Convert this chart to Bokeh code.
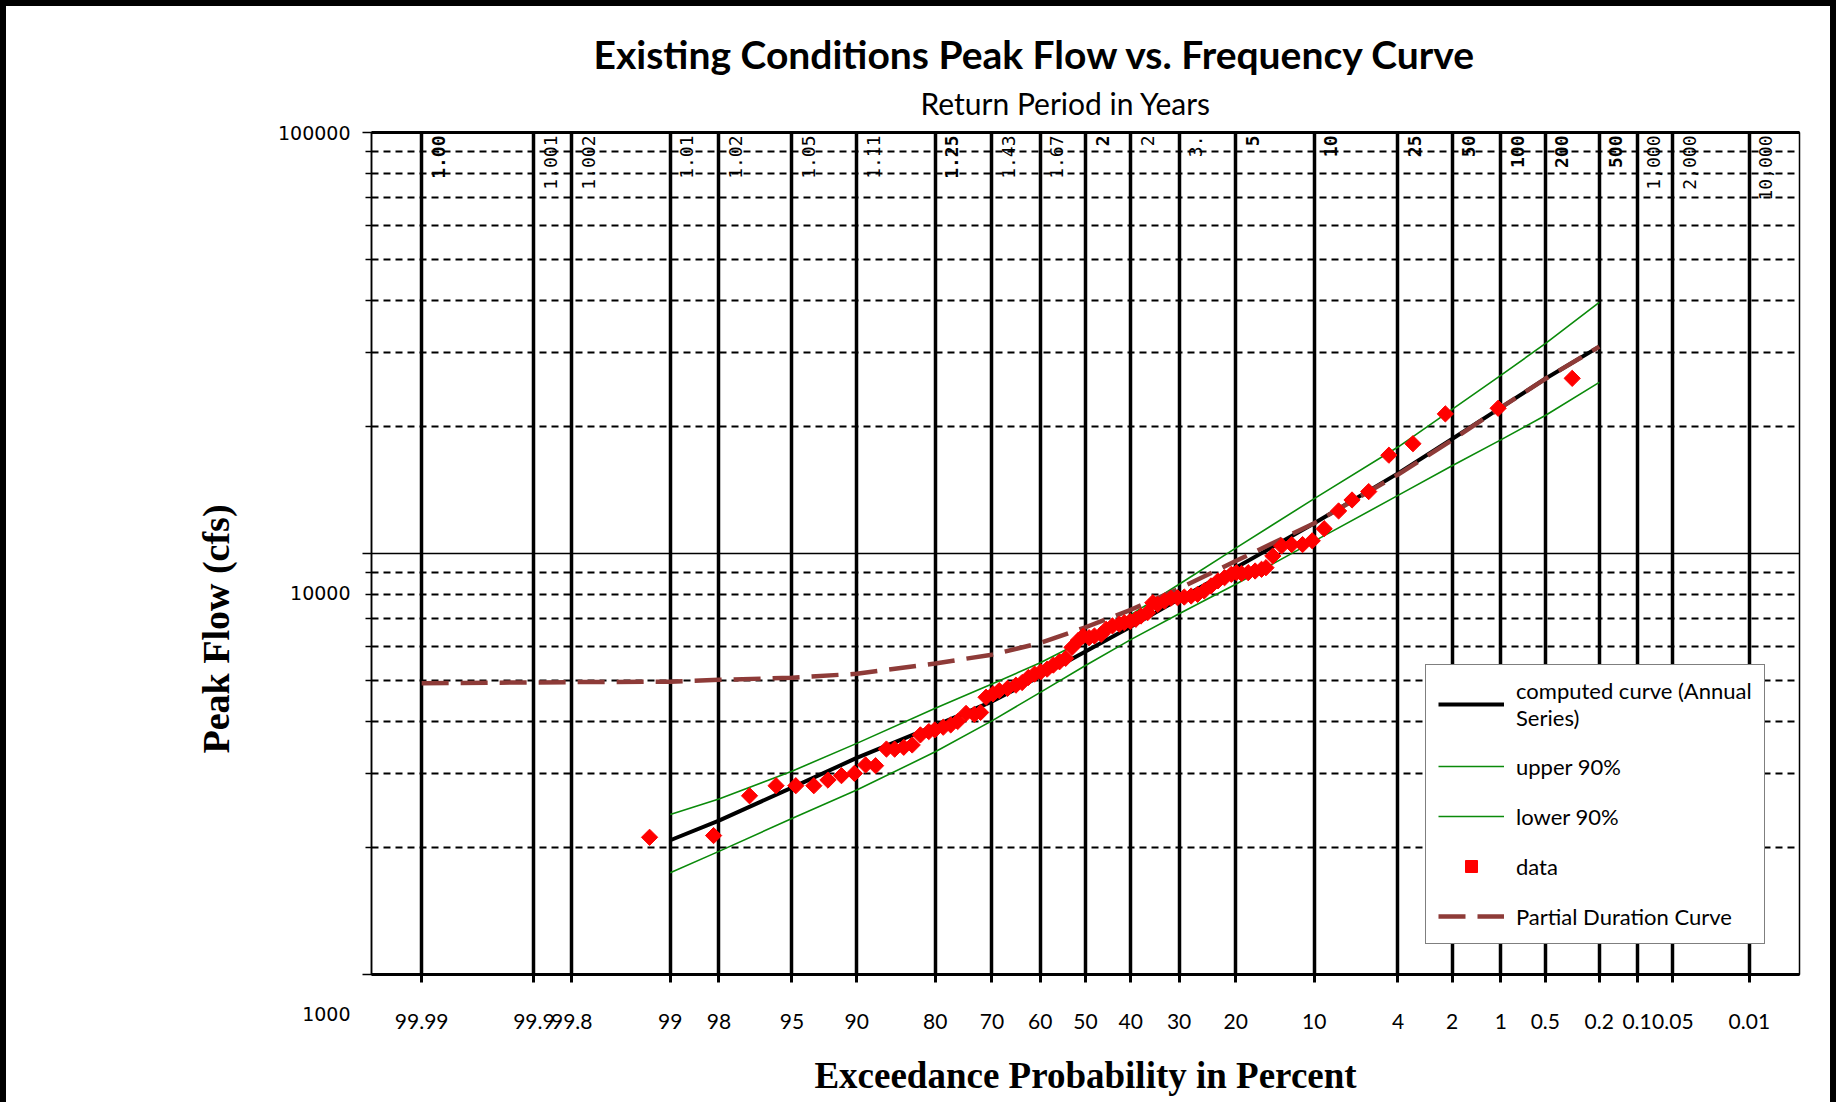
from statistics import NormalDist
import numpy as np
from bokeh.plotting import figure
from bokeh.models import (FixedTicker, LinearAxis, Legend, LegendItem,
                          ColumnDataSource, Range1d, Title)
from bokeh.core.properties import value
from bokeh.embed import file_html
from bokeh.resources import INLINE

# ---------------- data ----------------
prob_ticks = [99.99, 99.9, 99.8, 99, 98, 95, 90, 80, 70, 60, 50, 40, 30, 20, 10,
              4, 2, 1, 0.5, 0.2, 0.1, 0.05, 0.01]
prob_labels = ["99.99", "99.9", "99.8", "99", "98", "95", "90", "80", "70", "60",
               "50", "40", "30", "20", "10", "4", "2", "1", "0.5", "0.2", "0.1",
               "0.05", "0.01"]
return_labels = ["1.00", "1.001", "1.002", "1.01", "1.02", "1.05", "1.11", "1.25",
                 "1.43", "1.67", "2", "2", "3.", "5", "10", "25", "50", "100", "200",
                 "500", "1,000", "2,000", "10,000"]
return_bold = [True, False, False, False, False, False, False, True, False, False,
               True, False, False, True, True, True, True, True, True, True,
               False, False, False]

flow_major = [1000, 10000, 100000]
# the original sheet prints 1000 and 10000 a little below their grid lines
flow_major_labels = ["\n\n\n1000", "\n\n\n10000", "100000"]
flow_minor = [2000, 3000, 4000, 5000, 6000, 7000, 8000, 9000,
              20000, 30000, 40000, 50000, 60000, 70000, 80000, 90000]

curve_prob = [99, 98, 95, 90, 80, 70, 60, 50, 40, 30, 20, 10, 4, 2, 1, 0.5, 0.2]
computed = [2084, 2320, 2780, 3270, 3900, 4450, 5110, 5850, 6700, 7800, 9250,
            11800, 15500, 18700, 22200, 26000, 31000]
upper90 = [2399, 2610, 3040, 3540, 4290, 4900, 5500, 6240, 7150, 8450, 10300,
           13500, 17900, 22000, 26500, 31500, 39500]
lower90 = [1745, 1961, 2348, 2742, 3380, 4004, 4680, 5420, 6244, 7194, 8450,
           10700, 13740, 16160, 18620, 21270, 25500]

pdc_prob = [99.99, 99.9, 99.8, 99, 98, 95, 90, 80, 70, 60, 50, 40, 30, 20, 10,
            4, 2, 1, 0.5, 0.2]
pdc_flow = [4920, 4940, 4950, 4960, 5010, 5070, 5180, 5480, 5750, 6130, 6680,
            7350, 8250, 9600, 11800, 15400, 18600, 22200, 26000, 31000]

data_prob = [99.27, 98.14, 97.01, 95.85, 94.77, 93.60, 92.55, 91.42, 90.23, 89.10,
             88.02, 86.76, 85.75, 84.57, 83.42, 82.25, 81.00, 80.06, 78.73, 77.49,
             76.30, 74.83, 73.33, 72.16, 71.13, 69.78, 68.55, 66.88, 65.17, 63.87,
             62.55, 61.23, 59.89, 58.51, 57.15, 55.79, 54.42, 53.02, 51.64, 50.5,
             49.2, 48.0, 46.5, 45.4, 44.0, 42.5, 41.4, 40.1, 38.9, 37.8,
             36.4, 35.3, 34.3, 32.9, 31.6, 30.3, 29.0, 27.7, 26.5, 25.3,
             24.1, 22.9, 21.8, 20.7, 19.9, 19.1, 18.1, 17.1, 16.2, 15.6,
             14.7, 13.6, 12.4, 11.2, 10.2, 9.06, 7.81, 6.77, 5.63, 4.46,
             3.33, 2.19, 1.04, 0.32]
data_flow = [2118, 2138, 2658, 2808, 2808, 2808, 2896, 2967, 3004, 3146,
             3133, 3432, 3430, 3465, 3509, 3708, 3776, 3811, 3867, 3916,
             3990, 4170, 4148, 4192, 4556, 4640, 4724, 4783, 4867, 4938,
             5076, 5171, 5235, 5313, 5431, 5531, 5635, 5984, 6215, 6368,
             6310, 6368, 6427, 6607, 6730, 6795, 6850, 6900, 6978, 7104,
             7234, 7640, 7570, 7709, 7830, 7853, 7880, 7925, 8000, 8147,
             8375, 8610, 8760, 8925, 9003, 8965, 9003, 9087, 9171, 9253,
             9863, 10420, 10500, 10500, 10720, 11450, 12620, 13400, 14030, 17120,
             18230, 21460, 22130, 26060]

# ------------- probability (normal) transform -------------
nd = NormalDist()


def to_z(ps):
    return [nd.inv_cdf(1.0 - v / 100.0) for v in ps]


def key(v):
    r = round(v, 6)
    return int(r) if r == int(r) else r


tick_z = [key(v) for v in to_z(prob_ticks)]

p = figure(width=1836, height=1102, x_range=Range1d(-4, 4),
           y_range=Range1d(flow_major[0], flow_major[-1]), y_axis_type="log",
           title=None, output_backend="svg", toolbar_location=None,
           min_border_left=365, min_border_right=43,
           min_border_top=126, min_border_bottom=134)
p.styles = {"border-top": "6px solid black", "border-left": "6px solid black",
            "border-right": "6px solid black"}
p.background_fill_color = "white"
p.border_fill_color = "white"
p.outline_line_color = "black"
p.outline_line_width = 1.5

# x axis (probability)
p.xaxis.ticker = FixedTicker(ticks=tick_z)
p.xaxis.major_label_overrides = {t: l for t, l in zip(tick_z, prob_labels)}
p.xaxis.axis_line_width = 3
p.xaxis.major_tick_line_width = 3
p.xaxis.major_tick_out = 8
p.xaxis.major_tick_in = 0
p.xaxis.minor_tick_out = 0
p.xaxis.major_label_standoff = 31
p.xaxis.major_label_text_font = "Lato"
p.xaxis.major_label_text_font_size = "21px"
p.xaxis.major_label_text_color = "black"
p.xaxis.axis_label = "Exceedance Probability in Percent"
p.xaxis.axis_label_text_font = "Liberation Serif"
p.xaxis.axis_label_text_font_style = "bold"
p.xaxis.axis_label_text_font_size = "37px"
p.xaxis.axis_label_text_color = "black"
p.xaxis.axis_label_standoff = 23
p.xgrid.ticker = FixedTicker(ticks=tick_z)
p.xgrid.grid_line_color = "black"
p.xgrid.grid_line_width = 3.5
p.xgrid.grid_line_alpha = 1

# y axis (log)
p.yaxis.ticker = FixedTicker(ticks=flow_major, minor_ticks=flow_minor)
p.yaxis.major_label_overrides = {t: l for t, l in zip(flow_major, flow_major_labels)}
p.yaxis.axis_line_width = 1.5
p.yaxis.major_tick_line_width = 1.5
p.yaxis.minor_tick_line_width = 1.5
p.yaxis.major_tick_out = 9
p.yaxis.major_tick_in = 0
p.yaxis.minor_tick_out = 6
p.yaxis.minor_tick_in = 0
p.yaxis.major_label_standoff = 12
p.yaxis.major_label_text_font = "DejaVu Sans"
p.yaxis.major_label_text_font_size = "19px"
p.yaxis.major_label_text_color = "black"
p.ygrid.grid_line_color = "black"
p.ygrid.grid_line_width = 1.5
p.ygrid.grid_line_alpha = 1
p.ygrid.minor_grid_line_color = "black"
p.ygrid.minor_grid_line_width = 2
p.ygrid.minor_grid_line_dash = "7 5"

# thick top edge of the plot area
top_axis = LinearAxis(ticker=FixedTicker(ticks=[]), axis_line_width=3,
                      major_tick_out=0, minor_tick_out=0, major_tick_in=0,
                      minor_tick_in=0)
p.add_layout(top_axis, "above")

# titles
p.add_layout(Title(text="Return Period in Years", align="left", offset=549,
                   standoff=24, text_font="Lato", text_font_size="30px",
                   text_font_style="normal", text_color="black"), "above")
p.add_layout(Title(text="Existing Conditions  Peak Flow vs. Frequency Curve",
                   align="left", offset=222, standoff=-12, text_font="Lato",
                   text_font_size="39px", text_font_style="bold",
                   text_color="black"), "above")
p.add_layout(Title(text="Peak Flow (cfs)", align="left", offset=221,
                   standoff=76, text_font="Liberation Serif",
                   text_font_size="38px", text_font_style="bold",
                   text_color="black"), "left")

# return period labels along the top
tz = to_z(prob_ticks)
for bold in (True, False):
    xs = [z for z, b in zip(tz, return_bold) if b == bold]
    ts = [t for t, b in zip(return_labels, return_bold) if b == bold]
    src = ColumnDataSource(dict(x=xs, y=[flow_major[-1]] * len(xs), text=ts))
    p.text(x="x", y="y", text="text", source=src, angle=np.pi / 2,
           text_align="right", text_baseline="top", x_offset=10, y_offset=3,
           text_font=value("DejaVu Sans Mono"), text_font_size="18px",
           text_font_style="bold" if bold else "normal", text_color="black")

# ---------------- series ----------------
cz = to_z(curve_prob)
r_up = p.line(cz, upper90, line_color="#0A8A0A", line_width=1.6)
r_lo = p.line(cz, lower90, line_color="#0A8A0A", line_width=1.6)
r_comp = p.line(cz, computed, line_color="black", line_width=4)
r_pdc = p.line(to_z(pdc_prob), pdc_flow, line_color="#8E3B38", line_width=4.5,
               line_dash="27 12")
r_data = p.scatter(to_z(data_prob), data_flow, marker="square", angle=np.pi / 4,
                   size=11.5, fill_color="#FF0000", line_color="#FF0000")

legend = Legend(items=[
    LegendItem(label="computed curve (Annual\nSeries)", renderers=[r_comp]),
    LegendItem(label="upper 90%", renderers=[r_up]),
    LegendItem(label="lower 90%", renderers=[r_lo]),
    LegendItem(label="data", renderers=[r_data]),
    LegendItem(label="Partial Duration Curve", renderers=[r_pdc]),
], location=(1054, 30))
legend.border_line_color = "black"
legend.border_line_width = 1.5
legend.background_fill_color = "white"
legend.background_fill_alpha = 1
legend.padding = 12
legend.margin = 0
legend.spacing = 20
legend.glyph_width = 66
legend.glyph_height = 30
legend.label_height = 20
legend.label_standoff = 12
legend.label_text_font = "Lato"
legend.label_text_font_size = "22px"
legend.label_text_color = "black"
p.add_layout(legend)

open("out.html", "w").write(file_html(p, INLINE))
